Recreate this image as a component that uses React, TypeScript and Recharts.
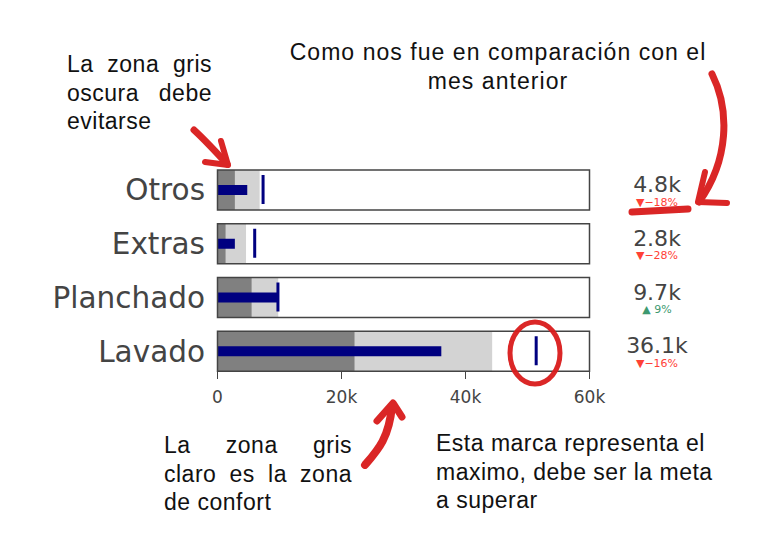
import React from 'react';
import { ComposedChart, Bar, XAxis, YAxis, LabelList } from 'recharts';

// bullet chart data (values in units, axis goes 0..60k)
const categories = ['Otros', 'Extras', 'Planchado', 'Lavado'];
const darkZone = [2800, 1300, 5500, 22100];
const lightZone = [6800, 4600, 9800, 44300];
const actual = [4800, 2800, 9700, 36100];
const maximo = [7350, 6000, 9750, 51400];
const deltaPct = [-18, -28, 9, -16];
const xTicks = [0, 20000, 40000, 60000];
const axisMax = 60000;

// annotation lines
const noteDark = ['La zona gris', 'oscura debe', 'evitarse'];
const noteDelta = ['Como nos fue en comparación con el', 'mes anterior'];
const noteLight = ['La zona gris', 'claro es la zona', 'de confort'];
const noteMax = ['Esta marca representa el', 'maximo, debe ser la meta', 'a superar'];

const data = categories.map((name, i) => ({
  name,
  dark: darkZone[i],
  light: lightZone[i],
  value: actual[i],
  target: maximo[i],
  full: axisMax,
  delta: deltaPct[i],
}));

const NAVY = '#000080';
const TEXT = '#444';
const RED = '#d91b1b';
const chartFont = '"DejaVu Sans", Verdana, sans-serif';
const noteFont = '"Liberation Sans", Arial, sans-serif';

const fmtTick = (v: number) => (v === 0 ? '0' : `${v / 1000}k`);

const TargetMark = (props: any) => {
  const { x, y, width, height } = props;
  return <rect x={x + width - 1.5} y={y} width={3} height={height} fill={NAVY} />;
};

const XTick = (props: any) => {
  const { x, y, payload } = props;
  return (
    <g>
      <line x1={x} x2={x} y1={y - 7} y2={y + 1} stroke={TEXT} strokeWidth={1} />
      <text x={x} y={y + 25} textAnchor="middle" fontSize={17} fill={TEXT} fontFamily={chartFont}>
        {fmtTick(payload.value)}
      </text>
    </g>
  );
};

const NumberLabel = (props: any) => {
  const { x, y, width, height, value } = props;
  return (
    <text x={x + width + 67.5} y={y + height / 2 + 2} textAnchor="middle" fontSize={22} fill={TEXT} fontFamily={chartFont}>
      {(value / 1000).toFixed(1)}k
    </text>
  );
};

const DeltaLabel = (props: any) => {
  const { x, y, width, height, value } = props;
  const up = value >= 0;
  return (
    <text x={x + width + 67.5} y={y + height / 2 + 15.5} textAnchor="middle" fontSize={11} fill={up ? '#3D9970' : '#FF4136'} fontFamily={chartFont}>
      {up ? `▲ ${value}%` : `▼−${Math.abs(value)}%`}
    </text>
  );
};

const Note = ({ lines, left, top, width, align, spacing = 0.5 }: { lines: string[]; left: number; top: number; width: number; align: 'justify' | 'left' | 'center'; spacing?: number }) => (
  <div
    style={{
      position: 'absolute',
      left,
      top,
      width,
      fontFamily: noteFont,
      fontSize: 23,
      lineHeight: '28.5px',
      color: '#111',
      letterSpacing: spacing,
    }}
  >
    {lines.map((t, i) => (
      <div
        key={i}
        style={{
          textAlign: align === 'center' ? 'center' : 'left',
          textAlignLast: align === 'justify' && i < lines.length - 1 ? 'justify' : align === 'center' ? 'center' : 'left',
        }}
      >
        {t}
      </div>
    ))}
  </div>
);

export default function App() {
  return (
    <div style={{ position: 'absolute', left: 0, top: 0, width: 762, height: 546, background: '#fff' }}>
      <ComposedChart
        layout="vertical"
        width={762}
        height={546}
        data={data}
        margin={{ top: 163, right: 172.5, bottom: 138, left: 17.5 }}
      >
        <XAxis
          type="number"
          domain={[0, axisMax]}
          ticks={xTicks}
          axisLine={false}
          tickLine={false}
          tickSize={0}
          tickMargin={0}
          height={30}
          tick={<XTick />}
          interval={0}
        />
        <YAxis
          yAxisId="box"
          type="category"
          dataKey="name"
          width={200}
          axisLine={false}
          tickLine={false}
          tickSize={0}
          tickMargin={12.5}
          tick={{ fontSize: 29.5, fill: TEXT, fontFamily: chartFont }}
        />
        <YAxis yAxisId="light" type="category" dataKey="name" hide />
        <YAxis yAxisId="dark" type="category" dataKey="name" hide />
        <YAxis yAxisId="val" type="category" dataKey="name" hide />
        <YAxis yAxisId="mark" type="category" dataKey="name" hide />

        <Bar yAxisId="light" dataKey="light" fill="#d3d3d3" barSize={40} isAnimationActive={false} />
        <Bar yAxisId="dark" dataKey="dark" fill="#808080" barSize={40} isAnimationActive={false} />
        <Bar yAxisId="val" dataKey="value" fill={NAVY} barSize={10} isAnimationActive={false} />
        <Bar yAxisId="mark" dataKey="target" barSize={29} shape={<TargetMark />} isAnimationActive={false} />
        <Bar yAxisId="box" dataKey="full" fill="none" stroke={TEXT} strokeWidth={1.5} barSize={40} isAnimationActive={false}>
          <LabelList dataKey="value" content={<NumberLabel />} />
          <LabelList dataKey="delta" content={<DeltaLabel />} />
        </Bar>
      </ComposedChart>

      <Note lines={noteDark} left={67} top={50} width={145} align="justify" />
      <Note lines={noteDelta} left={268} top={38} width={460} align="center" spacing={1.05} />
      <Note lines={noteLight} left={164} top={431} width={188} align="justify" />
      <Note lines={noteMax} left={436} top={429} width={300} align="left" />

      {/* hand drawn red marks */}
      <svg width={762} height={546} style={{ position: 'absolute', left: 0, top: 0, pointerEvents: 'none' }}>
        <g fill="none" stroke={RED} strokeLinecap="round" strokeLinejoin="round" opacity={0.95}>
          <path d="M194,130 Q206,141 227,164" strokeWidth={7} />
          <path d="M221,141 L228,165 L205,162" strokeWidth={6} />
          <ellipse cx={535} cy={353} rx={25} ry={31} strokeWidth={5} />
          <path d="M365,465 C378,450 389,438 392,406" strokeWidth={8} />
          <path d="M377,421 L393,403 L402,417" strokeWidth={7} />
          <path d="M712,74 C730,110 729,160 699,202" strokeWidth={7} />
          <path d="M705,172 L698,202 L727,203" strokeWidth={6} />
          <path d="M632,212 L688,209" strokeWidth={7} />
        </g>
      </svg>
    </div>
  );
}
